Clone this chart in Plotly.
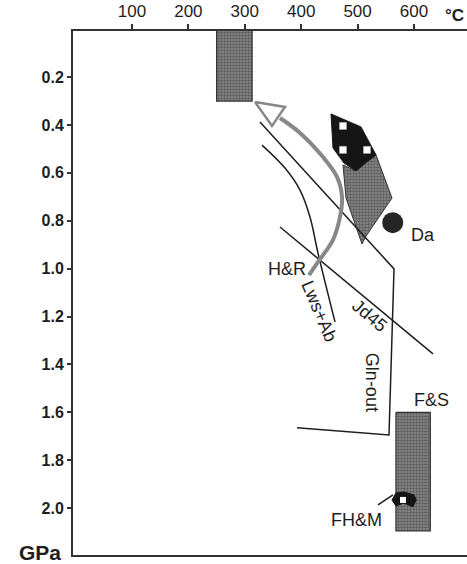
import plotly.graph_objects as go

# ---- axes ----
x_ticks = [100, 200, 300, 400, 500, 600]
y_ticks = [0.2, 0.4, 0.6, 0.8, 1.0, 1.2, 1.4, 1.6, 1.8, 2.0]
y_tick_text = ["0.2", "0.4", "0.6", "0.8", "1.0", "1.2", "1.4", "1.6", "1.8", "2.0"]
x_range = [-4.6, 694]
y_range = [2.196, 0.0075]

# ---- fields (T in degC, P in GPa) ----
rect_top_T = [250, 313, 313, 250, 250]
rect_top_P = [0.0, 0.0, 0.30, 0.30, 0.0]
rect_fs_T = [568, 629, 629, 568, 568]
rect_fs_P = [1.60, 1.60, 2.095, 2.095, 1.60]

black_T = [452.9, 506.0, 532.7, 513.2, 497.2, 475.9, 456.4, 452.9]
black_P = [0.354, 0.408, 0.525, 0.559, 0.592, 0.559, 0.496, 0.354]
grey_T = [474.1, 497.2, 532.7, 561.0, 515.0, 507.8, 479.5, 474.1]
grey_P = [0.567, 0.592, 0.525, 0.705, 0.864, 0.897, 0.705, 0.567]
white_sq_T = [474.1, 474.1, 516.7]
white_sq_P = [0.404, 0.504, 0.504]

fhm_T = [561, 568, 582, 600, 604, 598, 582, 568, 561]
fhm_P = [1.966, 1.937, 1.933, 1.945, 1.966, 1.995, 1.979, 1.991, 1.966]
fhm_sq_T = [580.5]
fhm_sq_P = [1.966]
fhm_leader_T = [536.2, 562.8]
fhm_leader_P = [1.987, 1.945]

da_T = [562.3]
da_P = [0.808]

# ---- P-T path ----
path_T = [413.8, 429.8, 456.4, 468.8, 472.4, 463.5, 438.7, 397.9, 362.4]
path_P = [1.027, 0.972, 0.880, 0.784, 0.701, 0.617, 0.534, 0.433, 0.371]
arrow_T = [318.1, 371.3, 348.2, 318.1]
arrow_P = [0.304, 0.325, 0.404, 0.304]

# ---- reaction lines ----
gln_T = [326.9, 564.6, 555.7, 392.6]
gln_P = [0.388, 1.001, 1.695, 1.665]
lws_T = [330.5, 371.3, 397.9, 415.6, 429.8, 460.0]
lws_P = [0.484, 0.580, 0.672, 0.784, 0.935, 1.223]
jd_T = [362.4, 633.7]
jd_P = [0.826, 1.356]

# ---- labels ----
labels = [
    ("H&R", 374.8, 1.001, 0),
    ("Lws+Ab", 431.6, 1.177, 67),
    ("Jd45", 522.0, 1.198, 40),
    ("Gln-out", 525.6, 1.473, 90),
    ("Da", 616.0, 0.859, 0),
    ("F&S", 630.2, 1.549, 0),
    ("FH&M", 497.2, 2.050, 0),
]

FONT = "Liberation Sans, Arial, sans-serif"
INK = "#1e1e1e"
stipple = dict(shape=".", fgcolor="#2a2a2a", bgcolor="#8c8c8c", size=3, solidity=0.5)

fig = go.Figure()

for T, P in [(rect_top_T, rect_top_P), (rect_fs_T, rect_fs_P)]:
    fig.add_trace(go.Scatter(x=T, y=P, mode="lines", fill="toself",
                             fillcolor="#7a7a7a", fillpattern=stipple,
                             line=dict(color="#333", width=1.2), hoverinfo="skip"))

fig.add_trace(go.Scatter(x=grey_T, y=grey_P, mode="lines", fill="toself",
                         fillcolor="#7a7a7a", fillpattern=stipple,
                         line=dict(color="#333", width=1), hoverinfo="skip"))
fig.add_trace(go.Scatter(x=black_T, y=black_P, mode="lines", fill="toself",
                         fillcolor="#151515", line=dict(color="#151515", width=1),
                         hoverinfo="skip"))
fig.add_trace(go.Scatter(x=white_sq_T, y=white_sq_P, mode="markers",
                         marker=dict(symbol="square", size=7, color="white",
                                     line=dict(color="#bbb", width=0.5)),
                         hoverinfo="skip"))

fig.add_trace(go.Scatter(x=fhm_T, y=fhm_P, mode="lines", fill="toself",
                         fillcolor="#151515", line=dict(color="#151515", width=1),
                         hoverinfo="skip"))
fig.add_trace(go.Scatter(x=fhm_sq_T, y=fhm_sq_P, mode="markers",
                         marker=dict(symbol="square", size=6, color="white"),
                         hoverinfo="skip"))
fig.add_trace(go.Scatter(x=fhm_leader_T, y=fhm_leader_P, mode="lines",
                         line=dict(color=INK, width=1.5), hoverinfo="skip"))

fig.add_trace(go.Scatter(x=da_T, y=da_P, mode="markers",
                         marker=dict(size=21, color="#262626"), hoverinfo="skip"))

for T, P, shp in [(gln_T, gln_P, "linear"), (lws_T, lws_P, "spline"), (jd_T, jd_P, "linear")]:
    fig.add_trace(go.Scatter(x=T, y=P, mode="lines", line=dict(color=INK, width=1.5, shape=shp),
                             hoverinfo="skip"))

fig.add_trace(go.Scatter(x=path_T, y=path_P, mode="lines",
                         line=dict(color="#888888", width=4, shape="spline"),
                         hoverinfo="skip"))
fig.add_trace(go.Scatter(x=arrow_T, y=arrow_P, mode="lines", fill="toself",
                         fillcolor="white", line=dict(color="#888888", width=2.5),
                         hoverinfo="skip"))

annotations = []
for txt, T, P, ang in labels:
    annotations.append(dict(x=T, y=P, xref="x", yref="y", text=txt, showarrow=False,
                            textangle=ang, font=dict(family=FONT, size=18, color=INK)))
annotations.append(dict(x=0.940, y=1.0305, xref="paper", yref="paper", text="°C",
                        showarrow=False, xanchor="left", yanchor="middle",
                        font=dict(family=FONT, size=17, color=INK, weight="bold")))
annotations.append(dict(x=-0.0838, y=0.004, xref="paper", yref="paper", text="GPa",
                        showarrow=False, xanchor="center", yanchor="middle",
                        font=dict(family=FONT, size=21, color=INK, weight="bold")))

fig.update_layout(
    width=467, height=564,
    margin=dict(l=73, r=0, t=31, b=9),
    paper_bgcolor="white", plot_bgcolor="white",
    showlegend=False,
    annotations=annotations,
    xaxis=dict(range=x_range, side="top", tickvals=x_ticks, ticks="outside", ticklen=5,
               tickwidth=1.5, tickcolor="#333", showline=True, linecolor="#333", linewidth=2,
               mirror=True, showgrid=False, zeroline=False,
               tickfont=dict(family=FONT, size=17, color=INK)),
    yaxis=dict(range=y_range, tickvals=y_ticks, ticktext=y_tick_text, ticks="outside",
               ticklen=4, tickwidth=1.5, tickcolor="#333", showline=True, linecolor="#333",
               linewidth=2, mirror=False, showgrid=False, zeroline=False,
               tickfont=dict(family=FONT, size=16, color=INK, weight="bold")),
)

fig.write_html("out.html")
